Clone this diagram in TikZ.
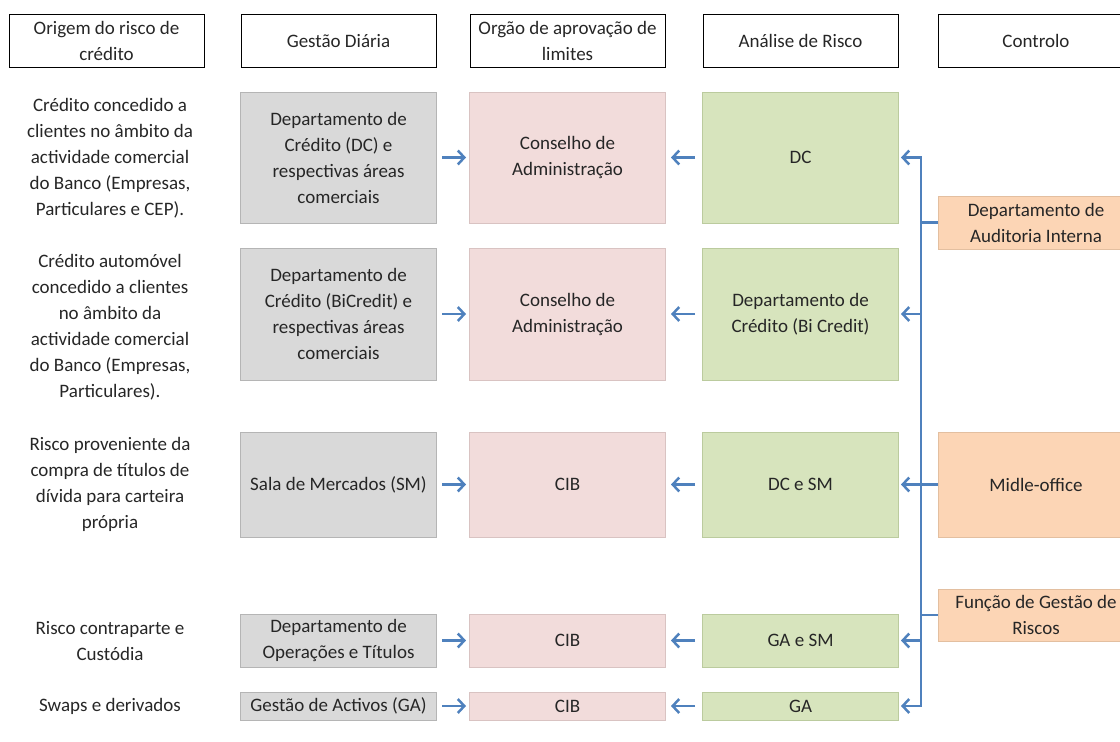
\documentclass[tikz,border=0pt]{standalone}
\usepackage{fontspec}
\setmainfont{Carlito}
\usetikzlibrary{arrows.meta}
\definecolor{inkgrey}{HTML}{262626}
\definecolor{greyfill}{HTML}{D9D9D9}
\definecolor{greyline}{HTML}{B5B5B5}
\definecolor{pinkfill}{HTML}{F2DCDB}
\definecolor{pinkline}{HTML}{D9C3C2}
\definecolor{greenfill}{HTML}{D7E4BD}
\definecolor{greenline}{HTML}{BBCB9E}
\definecolor{orangefill}{HTML}{FCD5B5}
\definecolor{orangeline}{HTML}{E3BFA0}
\definecolor{linkblue}{HTML}{4F81BD}
\begin{document}
\begin{tikzpicture}[x=1pt,y=-1pt,
  txt/.style={align=center,text=inkgrey,font=\fontsize{19}{26}\selectfont},
  head/.style={txt,draw=black,line width=1pt,minimum width=195,minimum height=53,inner sep=0pt},
  cell/.style={txt,line width=1pt,minimum width=196,inner sep=0pt},
  gdbox/.style={cell,fill=greyfill,draw=greyline},
  apbox/.style={cell,fill=pinkfill,draw=pinkline},
  arbox/.style={cell,fill=greenfill,draw=greenline},
  ctbox/.style={cell,fill=orangefill,draw=orangeline},
  link/.style={draw=linkblue,line width=2.5pt},
  arr/.style={link,-{Straight Barb[length=6.5pt,width=14pt]}}]
\useasboundingbox (0,0) rectangle (1120,742);
\clip (0,0) rectangle (1120,742);
% column headers
\node[head] (h1) at (106.5,41) {Origem do risco de\\crédito};
\node[head] (h2) at (338.5,41) {Gestão Diária};
\node[head] (h3) at (567.5,41) {Orgão de aprovação de\\limites};
\node[head] (h4) at (800.5,41) {Análise de Risco};
\node[head] (h5) at (1036,41) {Controlo};
% origem do risco
\node[txt] (or1) at (110,158) {Crédito concedido a\\clientes no âmbito da\\actividade comercial\\do Banco (Empresas,\\Particulares e CEP).};
\node[txt] (or2) at (110,327) {Crédito automóvel\\concedido a clientes\\no âmbito da\\actividade comercial\\do Banco (Empresas,\\Particulares).};
\node[txt] (or3) at (110,484) {Risco proveniente da\\compra de títulos de\\dívida para carteira\\própria};
\node[txt] (or4) at (110,641) {Risco contraparte e\\Custódia};
\node[txt] (or5) at (110,706) {Swaps e derivados};
% gestao diaria
\node[gdbox,minimum height=131] (gd1) at (338.5,157.5) {Departamento de\\Crédito (DC) e\\respectivas áreas\\comerciais};
\node[gdbox,minimum height=132] (gd2) at (338.5,314) {Departamento de\\Crédito (BiCredit) e\\respectivas áreas\\comerciais};
\node[gdbox,minimum height=105] (gd3) at (338.5,484.5) {Sala de Mercados (SM)};
\node[gdbox,minimum height=53] (gd4) at (338.5,640.5) {Departamento de\\Operações e Títulos};
\node[gdbox,minimum height=28] (gd5) at (338.5,706) {Gestão de Activos (GA)};
% aprovacao de limites
\node[apbox,minimum height=131] (ap1) at (567.5,157.5) {Conselho de\\Administração};
\node[apbox,minimum height=132] (ap2) at (567.5,314) {Conselho de\\Administração};
\node[apbox,minimum height=105] (ap3) at (567.5,484.5) {CIB};
\node[apbox,minimum height=53] (ap4) at (567.5,640.5) {CIB};
\node[apbox,minimum height=28] (ap5) at (567.5,706) {CIB};
% analise de risco
\node[arbox,minimum height=131] (ar1) at (800.5,157.5) {DC};
\node[arbox,minimum height=132] (ar2) at (800.5,314) {Departamento de\\Crédito (Bi Credit)};
\node[arbox,minimum height=105] (ar3) at (800.5,484.5) {DC e SM};
\node[arbox,minimum height=53] (ar4) at (800.5,640.5) {GA e SM};
\node[arbox,minimum height=28] (ar5) at (800.5,706) {GA};
% controlo
\node[ctbox,minimum height=53] (ct1) at (1036,222.5) {Departamento de\\Auditoria Interna};
\node[ctbox,minimum height=105] (ct2) at (1036,484.5) {Midle-office};
\node[ctbox,minimum height=52] (ct3) at (1036,615) {Função de Gestão de\\Riscos};
\coordinate (trunk) at (921,0);
% arrows between columns
\foreach \r in {1,...,5} {
  \draw[arr,shorten <=5pt,shorten >=3pt] (gd\r) -- (ap\r);
  \draw[arr,shorten <=7pt,shorten >=5pt] (ar\r) -- (ap\r);
}
\draw[link,{Straight Barb[length=6.5pt,width=14pt]}-{Straight Barb[length=6.5pt,width=14pt]},shorten <=2pt,shorten >=2pt]
  (ar1.east) -- (ar1.east -| trunk) -- (ar5.east -| trunk) -- (ar5.east);
\foreach \r in {2,3,4} \draw[arr,shorten >=2pt] (ar\r.east -| trunk) -- (ar\r.east);
\foreach \c in {1,2,3} \draw[link] (ct\c.west) -- (ct\c.west -| trunk);
\end{tikzpicture}
\end{document}
